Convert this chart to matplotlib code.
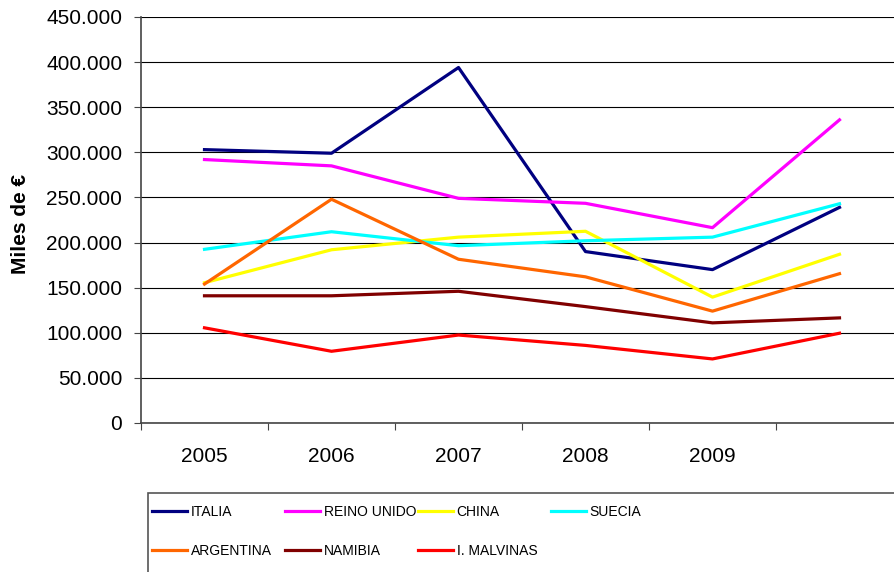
import matplotlib
matplotlib.use('Agg')
import matplotlib.pyplot as plt
from matplotlib.ticker import FixedLocator, FuncFormatter
from matplotlib.patches import Rectangle

years = ['2005', '2006', '2007', '2008', '2009', '']

italia = [303000, 299000, 394000, 190000, 170000, 239000]
reino_unido = [292000, 285000, 249000, 243500, 216500, 336000]
china = [155500, 192000, 206000, 212500, 139500, 187000]
suecia = [192500, 212000, 196500, 202000, 206000, 243000]
argentina = [154000, 248000, 181500, 162000, 124000, 165500]
namibia = [141000, 141000, 146000, 129000, 111000, 116500]
malvinas = [105500, 79500, 97500, 86000, 71000, 99500]

names = ['ITALIA', 'REINO UNIDO', 'CHINA', 'SUECIA', 'ARGENTINA', 'NAMIBIA', 'I. MALVINAS']
colors = ['#000080', '#FF00FF', '#FFFF00', '#00FFFF', '#FF6600', '#800000', '#FF0000']
series = [italia, reino_unido, china, suecia, argentina, namibia, malvinas]

plt.rcParams['font.family'] = ['Liberation Sans', 'DejaVu Sans']

fig = plt.figure(figsize=(8.95, 5.72), dpi=100)
ax = fig.add_axes([141/895, 1-423/572, (903-141)/895, 406/572])

x = list(range(len(years)))
for vals, c, n in zip(series, colors, names):
    ax.plot(x, vals, color=c, lw=2.3, label=n)

ax.set_xlim(-0.5, len(years)-0.5)
ax.set_ylim(0, 450000)
ax.set_yticks(range(0, 450001, 50000))
ax.yaxis.set_major_formatter(FuncFormatter(lambda v, p: '0' if v == 0 else f'{int(v):,}'.replace(',', '.')))
ax.grid(axis='y', color='black', lw=0.8)
ax.set_axisbelow(True)

ax.xaxis.set_major_locator(FixedLocator([i-0.5 for i in range(len(years)+1)]))
ax.xaxis.set_minor_locator(FixedLocator(x))
ax.set_xticklabels([])
ax.set_xticklabels(years, minor=True)
ax.tick_params(axis='x', which='major', length=5, width=0.8, color='#444444')
ax.tick_params(axis='x', which='minor', length=0, pad=17, labelsize=15)
ax.tick_params(axis='y', length=5, width=0.8, color='#444444', pad=8.5, labelsize=15)

for s in ['top', 'right']:
    ax.spines[s].set_visible(False)
for s in ['left', 'bottom']:
    ax.spines[s].set_color('#444444')
    ax.spines[s].set_linewidth(1.2)

ax.set_ylabel('Miles de €', fontsize=15, fontweight='bold')
ax.yaxis.set_label_coords(-0.146, 0.49)

fig.patches.append(Rectangle((148/895, -0.05), 0.9, 1-493/572+0.05, transform=fig.transFigure,
                             fill=False, edgecolor='#555555', lw=1.2))

# legend: 4 columns, row-major, uniform column stride like the original
handles, labels = ax.get_legend_handles_labels()
col_x = [152, 285, 418, 551]
for c in range(4):
    idx = [i for i in (c, c+4) if i < len(handles)]
    fig.legend([handles[i] for i in idx], [labels[i] for i in idx],
               frameon=False, prop={'size': 10}, loc='upper left',
               bbox_to_anchor=(col_x[c]/895, 1-505/572),
               handlelength=2.5, handletextpad=0.28, labelspacing=1.8,
               borderaxespad=0, borderpad=0)

fig.savefig('out.png', dpi=100)
